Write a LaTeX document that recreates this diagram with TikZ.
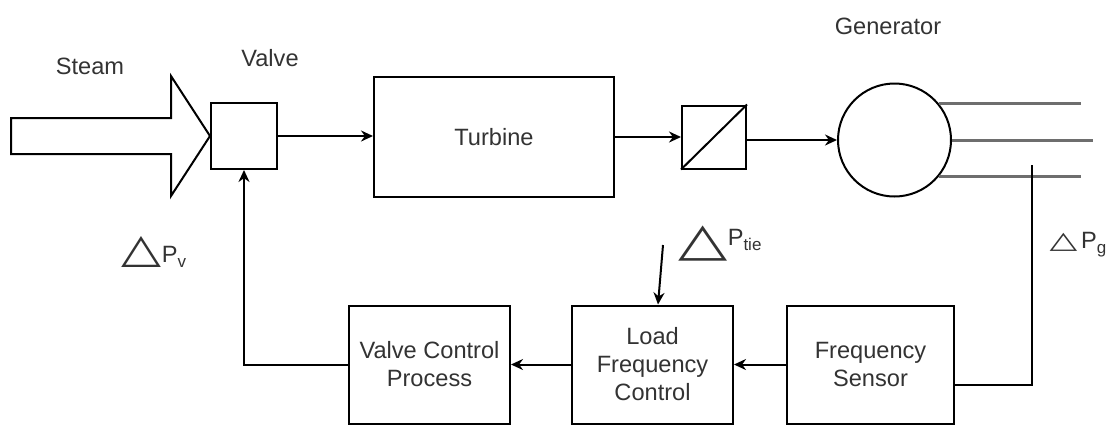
\documentclass[tikz,border=0pt]{standalone}
\usepackage{fontspec}
\setmainfont{Liberation Sans}
\newfontfamily\trifont{DejaVu Sans}
\usepackage{tikz}
\usetikzlibrary{positioning,arrows.meta}
\definecolor{ink}{HTML}{333333}
\definecolor{wiregray}{HTML}{6E6E6E}
\newcommand{\subtxt}[1]{\raisebox{-2.5pt}{\fontsize{8.5}{9}\selectfont #1}}
\newcommand{\tri}[2]{\scalebox{1}[#2]{\trifont\fontsize{#1}{#1}\selectfont △}}

\begin{document}
\begin{tikzpicture}[
  x=0.5pt, y=-0.5pt,
  every node/.style={font=\fontsize{11.8}{14}\selectfont, text=ink},
  blk/.style={draw=black, line width=1pt, fill=white, align=center, inner sep=2pt},
  flow/.style={draw=black, line width=1pt, -{Stealth[length=6pt,width=5.5pt]}},
  wire/.style={draw=wiregray, line width=1.5pt},
  lbl/.style={inner sep=0pt}
]
  \useasboundingbox (0,0) rectangle (1108,425);

  \node[blk, minimum width=33pt, minimum height=33pt] (valve) at (244,136) {};
  \node[blk, minimum width=120pt, minimum height=60pt, right=47.5pt of valve, yshift=-0.5pt] (turb) {Turbine};
  \node[blk, minimum width=32pt, minimum height=31.5pt, right=33pt of turb] (conv) {};
  \node[blk, circle, inner sep=0pt, minimum size=56.5pt, right=45pt of conv, yshift=-1.5pt] (gen) {};

  \node[blk, minimum width=80.5pt, minimum height=59pt] (lfc) at (652.5,364.5) {Load\\ Frequency\\ Control};
  \node[blk, minimum width=80.5pt, minimum height=59pt, left=30pt of lfc] (vcp) {Valve Control\\ Process};
  \node[blk, minimum width=83.5pt, minimum height=59pt, right=26pt of lfc] (fs) {Frequency\\ Sensor};

  \node[lbl] (steam) at (90,66) {Steam};
  \node[lbl] (valvelbl) at (270,58) {Valve};
  \node[lbl] (genlbl) at (888,26) {Generator};
  \node[lbl] (dpv) at (154,252) {\tri{26}{0.78}P\subtxt{v}};
  \node[lbl] (dptie) at (720,244) {\raisebox{-5pt}{\tri{32}{0.72}}P\subtxt{tie}};
  \node[lbl] (dpg) at (1078,245) {\tri{18}{0.66}\,P\subtxt{g}};

  % steam inlet
  \draw[line width=1pt, fill=white] (valve.west) -- ++(-39,-60) -- ++(0,42) -- ++(-160,0)
    -- ++(0,36) -- ++(160,0) -- ++(0,42) -- cycle;
  \draw[line width=1pt] (conv.south west) -- (conv.north east);

  % generator terminals
  \draw[wire] (gen.40) -- ++(142,0);
  \draw[wire] (gen.east) -- ++(141,0);
  \draw[wire] (gen.-40) -- ++(142,0);

  \draw[flow] (valve.east) -- (valve.east -| turb.west);
  \draw[flow] (turb.east) -- (turb.east -| conv.west);
  \draw[flow] (conv.east |- gen.west) -- (gen.west);

  \coordinate (tap) at (1032,165);
  \coordinate (tie) at (663,245);
  \draw[line width=1pt] (tap) |- ([yshift=-10.25pt]fs.east);
  \draw[flow] (fs.west) -- (lfc.east);
  \draw[flow] (lfc.west) -- (vcp.east);
  \draw[flow] (vcp.west) -| (valve.south);
  \draw[flow] (tie) -- ([xshift=2.75pt]lfc.north);
\end{tikzpicture}
\end{document}
